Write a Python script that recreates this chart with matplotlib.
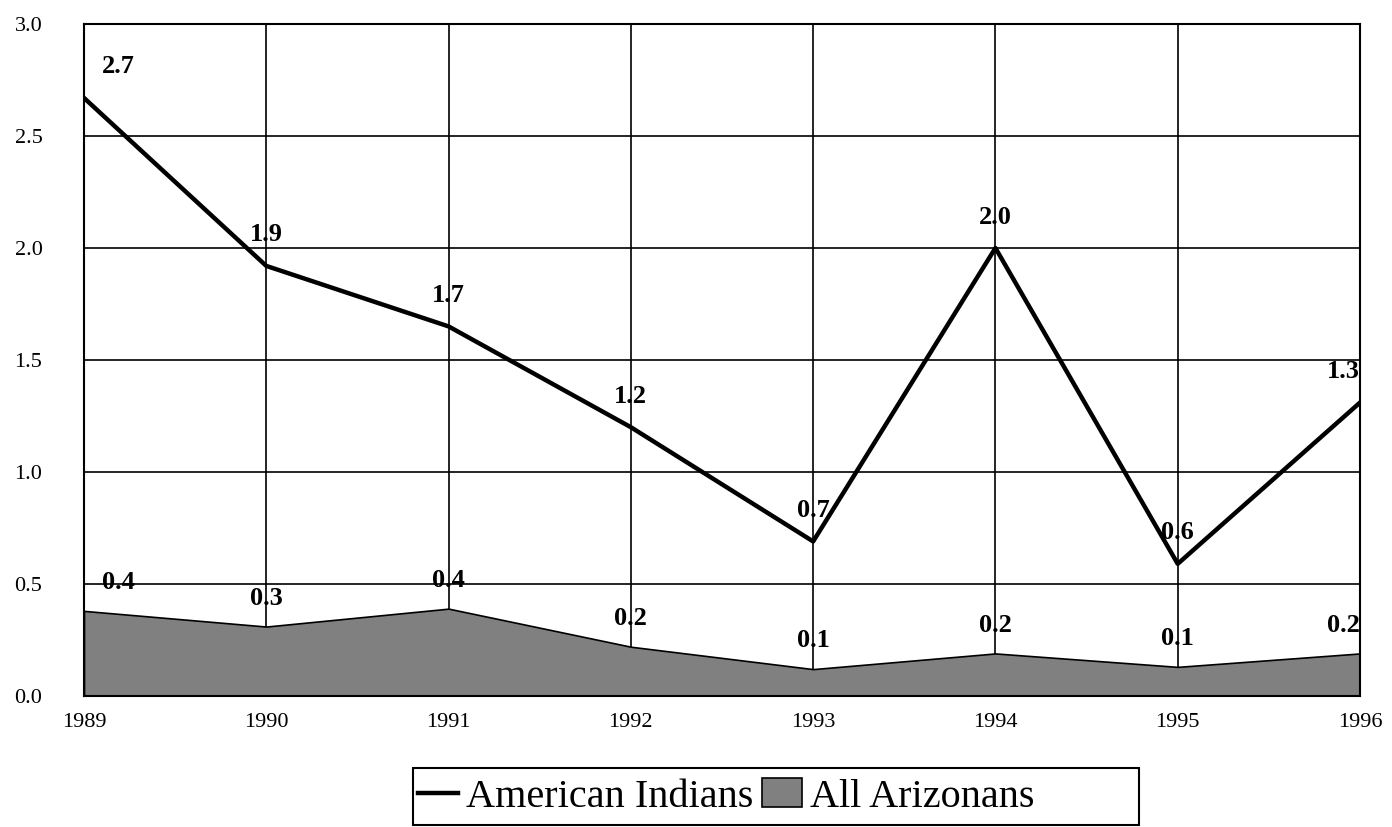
import matplotlib.pyplot as plt
import matplotlib.patches as mpatches
from matplotlib.lines import Line2D

years = [1989, 1990, 1991, 1992, 1993, 1994, 1995, 1996]
year_labels = ["1989", "1990", "1991", "1992", "1993", "1994", "1995", "1996"]

# American Indians (line) - plotted values and printed labels
indians = [2.67, 1.92, 1.65, 1.20, 0.69, 2.00, 0.59, 1.31]
indians_lbl = ["2.7", "1.9", "1.7", "1.2", "0.7", "2.0", "0.6", "1.3"]

# All Arizonans (area)
arizonans = [0.38, 0.31, 0.39, 0.22, 0.12, 0.19, 0.13, 0.19]
arizonans_lbl = ["0.4", "0.3", "0.4", "0.2", "0.1", "0.2", "0.1", "0.2"]

y_ticks = [0.0, 0.5, 1.0, 1.5, 2.0, 2.5, 3.0]
y_tick_labels = ["0.0", "0.5", "1.0", "1.5", "2.0", "2.5", "3.0"]

plt.rcParams['font.family'] = ['Liberation Serif', 'DejaVu Serif']

fig = plt.figure(figsize=(13.92, 8.27), dpi=100)
ax = fig.add_axes([84 / 1392, 1 - 696 / 827, 1276 / 1392, 672 / 827])

ax.fill_between(years, arizonans, 0, color='#808080', edgecolor='black',
                linewidth=1.2, zorder=2)
ax.plot(years, indians, color='black', linewidth=3.2, zorder=4)

ax.set_xlim(years[0], years[-1])
ax.set_ylim(0, 3.0)
ax.set_xticks(years)
ax.set_xticklabels(year_labels)
ax.set_yticks(y_ticks)
ax.set_yticklabels(y_tick_labels)
ax.tick_params(length=0, labelsize=16, pad=12)
ax.tick_params(axis='y', pad=50)
for lab in ax.get_yticklabels():
    lab.set_horizontalalignment('left')
ax.grid(True, color='black', linewidth=1.2, zorder=1)
ax.set_axisbelow(True)
for s in ax.spines.values():
    s.set_color('black')
    s.set_linewidth(1.5)
    s.set_zorder(5)


def label_offset(i):
    if i == 0:
        return 25
    if i == len(years) - 1:
        return -12
    return 0


# data labels
for i, (x, y) in enumerate(zip(years, indians)):
    ax.annotate(indians_lbl[i], (x, y), xytext=(label_offset(i), 14),
                textcoords='offset points', ha='center', va='bottom',
                fontsize=19, fontweight='bold', zorder=6)
for i, (x, y) in enumerate(zip(years, arizonans)):
    ax.annotate(arizonans_lbl[i], (x, y), xytext=(label_offset(i), 12),
                textcoords='offset points', ha='center', va='bottom',
                fontsize=19, fontweight='bold', zorder=6)

# legend (Excel-style box, wider than its entries)
handles = [Line2D([0], [0], color='black', linewidth=3.2),
           mpatches.Patch(facecolor='#808080', edgecolor='black', linewidth=1.2)]
leg = fig.legend(handles, ["American Indians", "All Arizonans"], loc='center left',
                 bbox_to_anchor=(418 / 1392, 1 - 797 / 827), ncol=2, fontsize=29,
                 frameon=False, handlelength=1.0, handletextpad=0.2,
                 columnspacing=0.2, borderpad=0.0, borderaxespad=0.0)
fig.add_artist(mpatches.Rectangle((413 / 1392, 1 - 825 / 827), 726 / 1392, 57 / 827,
                                  transform=fig.transFigure, fill=False,
                                  edgecolor='black', linewidth=1.5))

fig.savefig('out.png', dpi=100)
